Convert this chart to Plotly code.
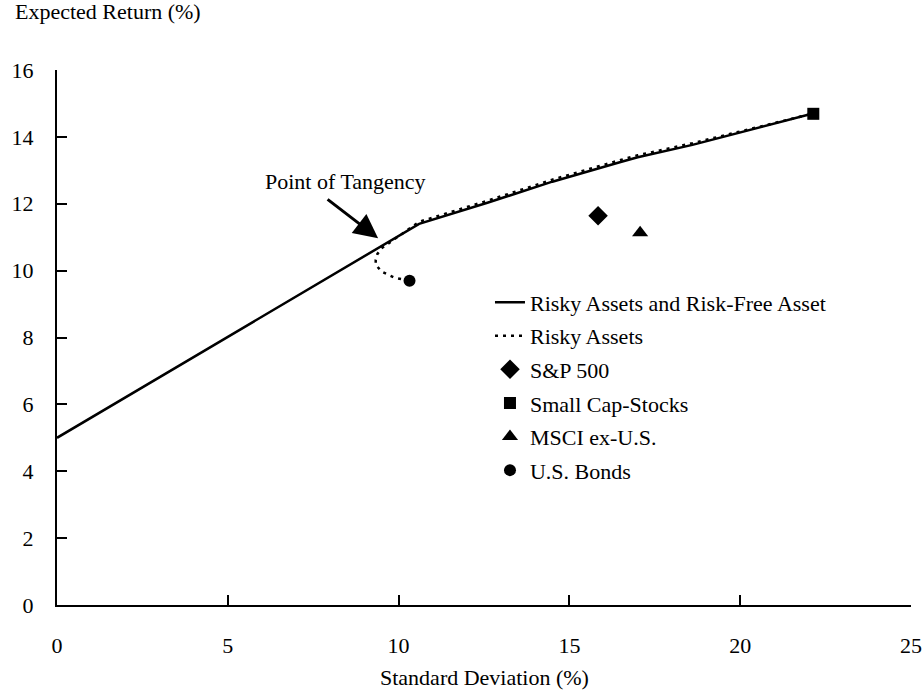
import plotly.graph_objects as go

# capital market line, then the efficient frontier above the tangency point
cml_sd = [0, 10.6, 12.6, 14.5, 16.5, 17.0, 18.6, 22.1]
cml_ret = [5.0, 11.40, 12.03, 12.66, 13.25, 13.39, 13.76, 14.69]

# risky assets frontier, starting from the bonds point
front_sd = [10.3, 9.88, 9.5, 9.33, 9.33, 9.38, 9.53, 9.82, 10.06,
            10.6, 12.6, 14.5, 16.5, 17.0, 18.6, 22.1]
front_ret = [9.70, 9.79, 9.97, 10.18, 10.32, 10.5, 10.69, 10.90, 11.06,
             11.46, 12.09, 12.72, 13.31, 13.45, 13.81, 14.69]

assets = ["S&P 500", "Small Cap-Stocks", "MSCI ex-U.S.", "U.S. Bonds"]
asset_sd = [15.84, 22.14, 17.07, 10.32]
asset_ret = [11.64, 14.69, 11.13, 9.70]
asset_symbols = ["diamond", "square", "triangle-up", "circle"]
asset_sizes = [15, 12, 14, 12]

x_ticks = [0, 5, 10, 15, 20, 25]
y_ticks = [0, 2, 4, 6, 8, 10, 12, 14, 16]

FONT = "Liberation Serif, Noto Serif, DejaVu Serif, serif"
FS = 22

fig = go.Figure()
fig.add_trace(go.Scatter(
    x=cml_sd, y=cml_ret, mode="lines", name="Risky Assets and Risk-Free Asset",
    line=dict(color="black", width=2.5), legendgroup="a",
))
fig.add_trace(go.Scatter(
    x=front_sd, y=front_ret, mode="lines", name="Risky Assets",
    line=dict(color="black", width=2.5, dash="3px,5px"), legendgroup="b",
))
for name, sx, ry, sym, sz in zip(assets, asset_sd, asset_ret, asset_symbols, asset_sizes):
    fig.add_trace(go.Scatter(
        x=[sx], y=[ry], mode="markers", name=name, legendgroup=name,
        marker=dict(color="black", symbol=sym, size=sz),
    ))

axis_common = dict(
    showgrid=False, zeroline=False, showline=True, linecolor="black", linewidth=2,
    ticks="inside", ticklen=10, tickwidth=1.5, tickcolor="black", automargin=False,
    tickfont=dict(family=FONT, size=FS, color="black"),
)
fig.update_xaxes(range=[0, 25], tickvals=x_ticks, ticklabelstandoff=20, **axis_common)
fig.update_yaxes(range=[0, 16], tickvals=y_ticks, ticklabelstandoff=17, **axis_common)

fig.update_layout(
    width=923, height=698,
    margin=dict(l=57, r=12, t=70, b=93),
    plot_bgcolor="white", paper_bgcolor="white",
    font=dict(family=FONT, size=FS, color="black"),
    showlegend=True,
    legend=dict(
        x=0.507, y=0.605, xanchor="left", yanchor="top",
        bgcolor="rgba(0,0,0,0)", font=dict(family=FONT, size=FS),
        tracegroupgap=2, traceorder="grouped",
    ),
    annotations=[
        dict(x=9.4, y=10.97, text="", showarrow=True, ax=-52, ay=-40,
             arrowhead=2, arrowsize=1.6, arrowwidth=3, arrowcolor="black"),
        dict(text="Point of Tangency", xref="paper", yref="paper",
             x=(345 - 57) / 854, y=(605 - 182) / 535, showarrow=False,
             xanchor="center", yanchor="middle"),
        dict(text="Expected Return (%)", xref="paper", yref="paper",
             x=-0.052, y=1.11, xanchor="left", yanchor="middle", showarrow=False),
        dict(text="Standard Deviation (%)", xref="paper", yref="paper",
             x=0.5, y=-0.135, xanchor="center", yanchor="middle", showarrow=False),
    ],
)

# drop the default page margin so the figure sits at the window's corner
fig.write_html(
    "out.html",
    config={"displayModeBar": False},
    post_script="document.body.style.margin='0';",
)
